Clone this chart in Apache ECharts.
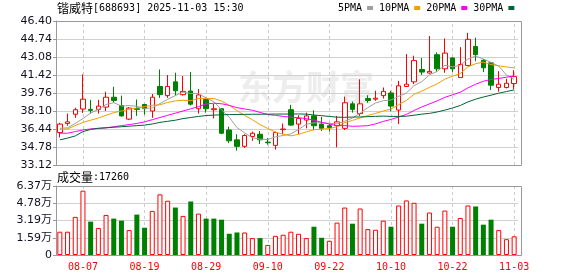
<!DOCTYPE html>
<html><head><meta charset="utf-8">
<script src="https://cdn.jsdelivr.net/npm/echarts@6/dist/echarts.min.js"></script>
<style>html,body{margin:0;padding:0;background:#fff}#c{width:578px;height:276px}</style>
</head><body><div id="c"></div>
<script>
const STOCK_NAME = '锴威特';
const STOCK_CODE = '[688693]';
const STAMP = '2025-11-03 15:30';
const VOLUME_TITLE = '成交量';
const WATERMARK = '东方财富';

const DATES = ['08-04','08-05','08-06','08-07','08-08','08-11','08-12','08-13','08-14','08-15',
  '08-18','08-19','08-20','08-21','08-22','08-25','08-26','08-27','08-28','08-29',
  '09-01','09-02','09-03','09-04','09-05','09-08','09-09','09-10','09-11','09-12',
  '09-15','09-16','09-17','09-18','09-19','09-22','09-23','09-24','09-25','09-26',
  '09-29','09-30','10-09','10-10','10-13','10-14','10-15','10-16','10-17','10-20',
  '10-21','10-22','10-23','10-24','10-27','10-28','10-29','10-30','10-31','11-03'];

const OPEN = [36.11,36.95,37.80,38.28,38.25,38.25,38.46,39.37,38.61,37.35,
  38.31,38.70,38.10,40.36,39.52,40.79,39.61,39.94,38.31,39.16,
  38.22,38.31,36.35,35.44,34.84,35.75,35.96,35.23,34.93,36.38,
  38.22,36.89,37.26,37.65,36.89,36.74,36.74,36.50,38.76,37.86,
  39.25,39.19,39.52,39.76,38.19,40.36,40.79,41.93,41.60,43.29,
  41.99,42.99,41.18,42.30,44.05,42.78,42.54,40.27,40.27,40.63];
const CLOSE = [36.89,37.10,38.22,39.19,38.16,38.55,39.37,39.07,37.65,38.37,
  38.25,38.31,39.37,39.61,40.36,39.97,39.91,38.73,39.58,38.31,
  38.31,36.05,35.35,34.84,35.84,36.05,35.44,35.17,36.11,36.44,
  36.80,37.41,37.65,36.74,36.50,36.56,37.10,38.86,38.25,38.76,
  39.07,39.28,39.91,38.55,40.42,40.57,42.75,41.69,41.75,41.99,
  43.44,41.99,42.39,44.71,43.29,42.08,40.48,40.57,40.66,41.27];
const LOW = [35.66,36.74,37.47,37.92,37.86,37.86,38.10,38.86,37.59,37.26,
  37.65,37.77,37.47,39.31,39.31,39.52,39.52,38.61,37.86,37.95,
  37.41,35.96,35.14,34.45,34.69,35.35,35.05,34.99,34.54,35.96,
  36.74,35.96,36.50,36.35,36.26,36.20,34.75,36.35,37.95,37.65,
  38.86,39.04,39.25,38.07,36.89,40.36,40.57,41.42,41.54,41.69,
  41.63,41.69,41.18,42.24,42.69,41.69,40.03,39.88,40.18,40.12];
const HIGH = [37.01,37.86,38.40,41.48,39.13,39.13,39.88,40.33,39.52,38.46,
  39.16,38.76,39.67,41.93,41.42,41.63,41.33,41.69,40.12,39.37,
  38.76,38.37,36.65,35.96,35.96,36.20,36.26,35.60,36.20,36.95,
  38.67,37.71,37.95,38.16,37.56,36.95,37.65,39.43,38.97,41.02,
  39.55,39.97,40.27,39.97,40.88,43.35,43.20,42.99,45.01,43.50,
  44.80,43.05,43.99,45.31,44.86,42.90,42.60,41.78,41.08,41.87];

const VOLUME = [21500,21500,35200,59400,30800,24900,37000,33600,31700,23000,
  37300,25200,40700,56000,50100,43800,36100,49400,38200,33600,
  33600,32600,19600,20800,20800,15600,15600,9300,17700,18700,
  21500,19600,15600,26100,15900,13100,29900,43800,28900,42900,
  23900,23300,31700,26100,45700,50400,48200,28900,39200,26100,
  41000,26100,34200,45700,44800,28000,32600,23000,14600,17260];
// 1 = red (up) volume bar, 0 = green (down) volume bar, as drawn
const VOLUME_UP = [1,1,1,1,0,1,1,0,0,1, 0,0,1,1,1,0,1,0,1,0,
  0,0,0,0,1,1,0,1,1,1, 1,1,1,0,0,1,1,1,0,1,
  1,1,1,0,1,1,1,0,1,1, 1,0,1,1,0,0,0,1,1,1];

const MA5 = [36.50,36.55,36.95,37.40,37.91,38.24,38.70,38.87,38.56,38.60,
  38.54,38.33,38.39,38.78,39.18,39.52,39.84,39.72,39.71,39.30,
  38.97,38.20,37.52,36.57,36.08,35.63,35.50,35.47,35.72,35.84,
  35.99,36.39,36.88,37.01,37.02,36.97,36.91,37.15,37.45,37.91,
  38.41,38.84,39.05,39.11,39.45,39.75,40.44,40.80,41.44,41.75,
  42.32,42.17,42.31,42.90,43.16,42.89,42.59,42.23,41.42,41.01];
const MA10 = [36.40,36.45,36.75,37.05,37.25,37.45,37.70,37.95,38.10,38.26,
  38.39,38.51,38.63,38.67,38.89,39.03,39.09,39.05,39.25,39.24,
  39.25,39.02,38.62,38.14,37.69,37.30,36.85,36.49,36.15,35.96,
  35.81,35.95,36.18,36.37,36.43,36.48,36.65,37.02,37.23,37.46,
  37.69,37.88,38.10,38.28,38.68,39.08,39.64,39.93,40.28,40.60,
  41.04,41.31,41.55,42.17,42.46,42.61,42.38,42.27,42.16,42.09];
const MA20 = [36.05,36.05,36.20,36.35,36.45,36.50,36.55,36.65,36.75,36.85,
  36.95,37.10,37.30,37.50,37.70,37.90,38.10,38.30,38.50,38.75,
  38.82,38.77,38.62,38.41,38.29,38.17,37.97,37.77,37.70,37.60,
  37.53,37.48,37.40,37.25,37.06,36.89,36.75,36.76,36.69,36.71,
  36.75,36.91,37.14,37.32,37.55,37.78,38.15,38.47,38.75,39.03,
  39.36,39.59,39.83,40.23,40.57,40.84,41.01,41.10,41.22,41.34];
const MA30 = [35.44,35.60,35.80,36.20,36.40,36.50,36.55,36.60,36.65,36.70,
  36.75,36.80,36.90,37.05,37.15,37.25,37.40,37.50,37.60,37.68,
  37.72,37.75,37.77,37.78,37.79,37.80,37.80,37.81,37.82,37.82,
  37.82,37.83,37.81,37.73,37.67,37.60,37.53,37.52,37.54,37.55,
  37.58,37.61,37.63,37.60,37.60,37.62,37.71,37.81,37.88,38.01,
  38.18,38.38,38.61,38.94,39.19,39.39,39.56,39.74,39.89,40.05];

const MA_NAMES = ['5PMA','10PMA','20PMA','30PMA'];
const PRICE_MIN = 33.12, PRICE_MAX = 46.40, PRICE_STEP = 1.66;
const VOL_MIN = 0, VOL_MAX = 63700, VOL_STEP = 15925;
const LABEL_FIRST = 3, LABEL_EVERY = 8;

// ---- layout / styles ----
const GL = 56, GW = 462;
const P_TOP = 21, P_H = 144, V_TOP = 186, V_H = 69;
const RED = '#ff0000', GREEN = '#008000', FRAME = '#999999', GRIDC = '#d0d0d0';
const MA_COLORS = ['#a0a0a0', '#f0a000', '#ff00ff', '#006633'];
const MONO = '"DejaVu Sans Mono", monospace';
const CJK = '"Noto Sans CJK SC", sans-serif';

const showIdx = i => (i - LABEL_FIRST) % LABEL_EVERY === 0;
const candleData = DATES.map((d, i) => [OPEN[i], CLOSE[i], LOW[i], HIGH[i]]);
const volData = VOLUME.map((v, i) => ({
  value: v,
  itemStyle: VOLUME_UP[i]
    ? { color: '#ffffff', borderColor: RED, borderWidth: 1 }
    : { color: GREEN, borderColor: GREEN, borderWidth: 0 }
}));
const vLines = DATES.filter((d, i) => showIdx(i)).map(d => ({ xAxis: d }));
const dashStyle = { color: '#cccccc', type: [3, 3], width: 1 };
const maSeries = [MA5, MA10, MA20, MA30].map((arr, k) => ({
  name: MA_NAMES[k], type: 'line', xAxisIndex: 0, yAxisIndex: 0,
  data: arr, showSymbol: false, symbol: 'none', smooth: false, z: 3,
  lineStyle: { width: 1, color: MA_COLORS[k] }, itemStyle: { color: MA_COLORS[k] }
}));

const chart = echarts.init(document.getElementById('c'), null, { renderer: 'canvas' });
chart.setOption({
  animation: false,
  backgroundColor: '#ffffff',
  title: [
    { left: 57, top: 2, padding: 0,
      text: `{a|${STOCK_NAME}}{b|${STOCK_CODE} ${STAMP}}`,
      textStyle: { rich: {
        a: { fontFamily: CJK, fontSize: 12, fontWeight: 'normal', color: '#000' },
        b: { fontFamily: MONO, fontSize: 10, fontWeight: 'normal', color: '#000' } } } },
    { left: 57, top: 171, padding: 0,
      text: `{a|${VOLUME_TITLE}}{b|:${VOLUME[VOLUME.length - 1]}}`,
      textStyle: { rich: {
        a: { fontFamily: CJK, fontSize: 12, fontWeight: 'normal', color: '#000' },
        b: { fontFamily: MONO, fontSize: 10, fontWeight: 'normal', color: '#000' } } } }
  ],
  legend: {
    left: 338, top: 3, padding: 0, align: 'right', icon: 'rect',
    itemWidth: 6, itemHeight: 4, itemGap: 6, selectedMode: false,
    data: MA_NAMES,
    textStyle: { fontFamily: MONO, fontSize: 10, color: '#000' }
  },
  grid: [
    { left: GL, top: P_TOP, width: GW, height: P_H },
    { left: GL, top: V_TOP, width: GW, height: V_H }
  ],
  xAxis: [
    { type: 'category', gridIndex: 0, data: DATES, boundaryGap: true,
      axisLine: { show: false }, axisTick: { show: false },
      axisLabel: { show: false }, splitLine: { show: false } },
    { type: 'category', gridIndex: 1, data: DATES, boundaryGap: true,
      axisLine: { show: false }, axisTick: { show: false },
      axisLabel: { interval: (i) => showIdx(i), color: RED, fontFamily: MONO, fontSize: 10, margin: 7 },
      splitLine: { show: false } }
  ],
  yAxis: [
    { type: 'value', gridIndex: 0, min: PRICE_MIN, max: PRICE_MAX, interval: PRICE_STEP,
      axisLine: { show: true, lineStyle: { color: FRAME } },
      axisTick: { show: true, length: 3, lineStyle: { color: FRAME } },
      axisLabel: { formatter: v => v.toFixed(2), color: '#111122', fontFamily: '"DejaVu Sans"', fontSize: 11, margin: 4 },
      splitLine: { show: true, lineStyle: { color: GRIDC, width: 1 } } },
    { type: 'value', gridIndex: 1, min: VOL_MIN, max: VOL_MAX, interval: VOL_STEP,
      axisLine: { show: true, lineStyle: { color: FRAME } },
      axisTick: { show: true, length: 3, lineStyle: { color: FRAME } },
      axisLabel: { formatter: v => v === 0 ? '0' : (Math.round(v / 100) / 100).toFixed(2) + '万',
        color: '#111122', fontFamily: '"DejaVu Sans", "Noto Sans CJK SC"', fontSize: 11, margin: 4 },
      splitLine: { show: true, lineStyle: { color: GRIDC, width: 1 } } }
  ],
  graphic: [
    { type: 'text', left: 238, top: 70, z: 0, silent: true,
      style: { text: WATERMARK, font: 'bold 34px "Noto Sans CJK SC"', fill: '#ededed' } },
    { type: 'rect', z: 100, silent: true,
      shape: { x: GL + 0.5, y: P_TOP + 0.5, width: 465, height: P_H },
      style: { fill: 'none', stroke: FRAME, lineWidth: 1 } },
    { type: 'rect', z: 100, silent: true,
      shape: { x: GL + 0.5, y: V_TOP + 0.5, width: 465, height: V_H },
      style: { fill: 'none', stroke: FRAME, lineWidth: 1 } }
  ],
  series: [
    { name: 'K', type: 'candlestick', xAxisIndex: 0, yAxisIndex: 0, data: candleData,
      barWidth: 5, z: 2,
      itemStyle: { color: '#ffffff', color0: GREEN, borderColor: RED, borderColor0: GREEN, borderWidth: 1 },
      markLine: { silent: true, symbol: ['none', 'none'], z: 1, label: { show: false },
        lineStyle: dashStyle, emphasis: { disabled: true }, data: vLines } },
    ...maSeries,
    { name: 'VOL', type: 'bar', xAxisIndex: 1, yAxisIndex: 1, data: volData, barWidth: 5, z: 2,
      markLine: { silent: true, symbol: ['none', 'none'], z: 1, label: { show: false },
        lineStyle: dashStyle, emphasis: { disabled: true }, data: vLines } }
  ]
});
</script></body></html>
